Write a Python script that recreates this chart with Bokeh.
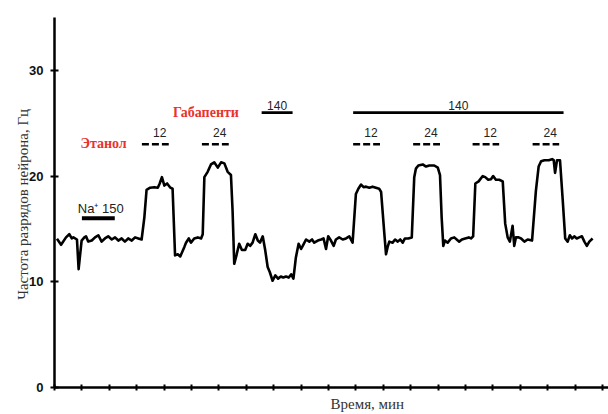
from bokeh.plotting import figure
from bokeh.models import Range1d, Title, FixedTicker
from bokeh.core.properties import value
from bokeh.embed import file_html
from bokeh.resources import INLINE

# ---- data ----
time_min = [0.09, 0.24, 0.42, 0.54, 0.63, 0.69, 0.82, 0.88, 0.99, 1.09, 1.15, 1.23, 1.36, 1.48, 1.60, 1.72,
            1.84, 1.96, 2.09, 2.21, 2.33, 2.45, 2.57, 2.69, 2.82, 2.94, 3.06, 3.18, 3.28, 3.36, 3.49, 3.64,
            3.77, 3.84, 3.92, 4.01, 4.11, 4.23, 4.31, 4.40, 4.50, 4.59, 4.74, 4.80, 4.90, 4.98, 5.10, 5.23,
            5.35, 5.41, 5.47, 5.59, 5.71, 5.83, 5.96, 6.08, 6.20, 6.32, 6.44, 6.50, 6.56, 6.65, 6.74, 6.84,
            6.96, 7.05, 7.14, 7.23, 7.33, 7.42, 7.50, 7.60, 7.69, 7.78, 7.86, 7.96, 8.06, 8.16, 8.26, 8.35,
            8.45, 8.55, 8.64, 8.72, 8.81, 8.91, 9.00, 9.08, 9.18, 9.30, 9.40, 9.48, 9.61, 9.73, 9.82, 9.91,
            9.99, 10.09, 10.19, 10.27, 10.39, 10.52, 10.64, 10.76, 10.88, 11.00, 11.09, 11.19, 11.28, 11.37,
            11.49, 11.61, 11.73, 11.85, 11.92, 12.04, 12.10, 12.16, 12.22, 12.34, 12.43, 12.53, 12.62, 12.71,
            12.79, 12.91, 13.04, 13.13, 13.19, 13.28, 13.44, 13.56, 13.68, 13.86, 13.99, 14.07, 14.13, 14.19,
            14.25, 14.35, 14.47, 14.59, 14.72, 14.77, 14.87, 14.99, 15.12, 15.20, 15.28, 15.36, 15.48, 15.63,
            15.72, 15.83, 15.93, 16.01, 16.11, 16.23, 16.36, 16.45, 16.54, 16.62, 16.72, 16.78, 16.84, 16.94,
            17.03, 17.15, 17.27, 17.43, 17.57, 17.67, 17.76, 17.88, 18.04, 18.16, 18.22, 18.27, 18.34, 18.45,
            18.55, 18.64, 18.73, 18.81, 18.89, 18.97, 19.06, 19.15, 19.25, 19.34, 19.43, 19.52, 19.64]
rate_hz = [14.07, 13.5, 14.2, 14.5, 14.1, 14.2, 14.0, 11.2, 13.9, 14.2, 14.3, 13.8, 13.9, 14.2, 14.4, 13.8,
           14.1, 14.3, 14.0, 14.2, 13.9, 14.1, 13.8, 14.1, 13.9, 14.2, 14.1, 14.0, 16.1, 18.7, 18.9, 18.95,
           18.9, 19.3, 19.9, 19.1, 19.3, 18.9, 18.8, 12.5, 12.6, 12.4, 13.3, 13.7, 14.1, 13.7, 14.1, 14.2,
           14.1, 14.5, 19.9, 20.4, 21.1, 21.3, 20.8, 21.3, 21.2, 20.4, 20.1, 16.7, 11.7, 12.6, 13.6, 13.0,
           13.0, 13.6, 13.4, 13.7, 14.5, 13.9, 13.7, 14.3, 13.0, 11.4, 10.9, 10.1, 10.6, 10.3, 10.5, 10.4,
           10.5, 10.4, 10.7, 10.3, 12.3, 13.6, 13.1, 13.5, 14.0, 13.8, 14.0, 13.7, 13.9, 14.0, 14.1, 13.1,
           14.3, 13.9, 13.4, 14.0, 14.2, 14.0, 14.1, 14.3, 13.7, 18.3, 18.8, 19.2, 18.95, 19.0,
           18.9, 19.0, 18.9, 18.8, 18.5, 14.5, 12.6, 13.3, 13.8, 13.7, 14.0, 13.8, 14.0, 13.7,
           14.1, 14.1, 14.2, 19.9, 20.7, 21.0, 21.1, 20.9, 21.0, 21.0, 20.8, 20.1, 16.1, 13.4,
           13.9, 13.7, 14.1, 14.2, 13.9, 13.8, 14.0, 14.1, 14.2, 14.1, 14.3, 19.3, 19.5, 20.0,
           19.9, 19.65, 19.7, 20.0, 19.65, 19.65, 19.5, 15.5, 14.2, 13.8, 15.3, 13.4, 14.2, 14.2,
           14.1, 13.8, 14.0, 13.9, 18.6, 20.9, 21.4, 21.5, 21.5, 21.6, 21.5, 20.3, 21.5, 21.5,
           17.7, 14.1, 13.8, 14.4, 14.1, 14.3, 14.1, 14.2, 14.3, 13.8, 13.4, 13.8, 14.1]

y_ticks = [0, 10, 20, 30]
x_ticks = list(range(0, 21))

na_label = "Na⁺ 150"
na_start, na_end, na_level = 1.0, 2.2, 16.0

ethanol_label = "Этанол"
dose_labels = ["12", "24", "12", "24", "12", "24"]
dose_start = [3.19, 5.38, 10.90, 13.09, 15.26, 17.45]
dose_end = [4.17, 6.36, 11.88, 14.07, 16.23, 18.42]
dose_level = 23.0

gaba_label = "Габапенти"
gaba_doses = ["140", "140"]
gaba_start = [7.56, 10.90]
gaba_end = [8.69, 18.58]
gaba_level = 26.0

RED = "#e8322e"
TXT = "#222222"

p = figure(width=608, height=414, output_backend="svg", toolbar_location=None,
           x_range=Range1d(0, 20.22), y_range=Range1d(0, 35),
           min_border_left=54, min_border_right=0, min_border_top=17, min_border_bottom=27)
p.outline_line_color = None
p.xgrid.visible = False
p.ygrid.visible = False
p.background_fill_color = "white"
p.border_fill_color = "white"

# axes
p.yaxis.ticker = FixedTicker(ticks=y_ticks)
p.yaxis.minor_tick_line_color = None
p.yaxis.major_tick_in = 4
p.yaxis.major_tick_out = 4
p.yaxis.major_tick_line_width = 2
p.yaxis.axis_line_width = 2.5
p.yaxis.major_label_text_font = "Liberation Sans"
p.yaxis.major_label_text_font_style = "bold"
p.yaxis.major_label_text_font_size = "13px"
p.yaxis.major_label_text_color = "#111111"
p.yaxis.major_label_standoff = 7
p.yaxis.axis_label = "Частота разрядов нейрона,  Гц"
p.yaxis.axis_label_text_font = "Liberation Serif"
p.yaxis.axis_label_text_font_style = "normal"
p.yaxis.axis_label_text_font_size = "15px"
p.yaxis.axis_label_text_color = "#333333"
p.yaxis.axis_label_standoff = -5

p.xaxis.ticker = FixedTicker(ticks=x_ticks)
p.xaxis.minor_tick_line_color = None
p.xaxis.major_tick_in = 3
p.xaxis.major_tick_out = 3
p.xaxis.major_tick_line_width = 2
p.xaxis.axis_line_width = 2.5
p.xaxis.major_label_text_font_size = "0px"
p.xaxis.major_label_text_color = None
p.xaxis.major_label_standoff = 0

# trace
p.line(time_min, rate_hz, line_color="black", line_width=2.6, line_join="round")

# Na bar
p.segment(x0=[na_start], y0=[na_level], x1=[na_end], y1=[na_level], line_color="black", line_width=4)
p.text(x=[(na_start + na_end) / 2 + 0.09], y=[na_level + 0.9], text=[na_label],
       text_font=value("Liberation Sans"), text_font_size="13px", text_color=TXT,
       text_align="center", text_baseline="middle")

# ethanol doses (dashed)
p.segment(x0=dose_start, y0=[dose_level] * len(dose_start), x1=dose_end, y1=[dose_level] * len(dose_end),
          line_color="black", line_width=2.5, line_dash="7 3")
p.text(x=[(a + b) / 2 + 0.16 for a, b in zip(dose_start, dose_end)], y=[dose_level + 1.1] * len(dose_labels),
       text=dose_labels, text_font=value("Liberation Sans"), text_font_size="12px", text_color=TXT,
       text_align="center", text_baseline="middle")
p.text(x=[1.79], y=[dose_level + 0.05], text=[ethanol_label], text_font=value("Liberation Serif"),
       text_font_style="bold", text_font_size="14px", text_color=RED,
       text_align="center", text_baseline="middle")

# gabapentin bars
p.segment(x0=gaba_start, y0=[gaba_level] * 2, x1=gaba_end, y1=[gaba_level] * 2,
          line_color="black", line_width=2.8)
p.text(x=[(a + b) / 2 for a, b in zip(gaba_start, gaba_end)], y=[gaba_level + 0.65] * 2, text=gaba_doses,
       text_font=value("Liberation Sans"), text_font_size="12px", text_color=TXT,
       text_align="center", text_baseline="middle")
p.text(x=[5.53], y=[gaba_level + 0.05], text=[gaba_label], text_font=value("Liberation Serif"),
       text_font_style="bold", text_font_size="14px", text_color=RED,
       text_align="center", text_baseline="middle")

# x axis label (off-centre, as in the original)
p.add_layout(Title(text="Время, мин", align="left", offset=276, text_font="Liberation Serif",
                   text_font_size="15px", text_font_style="normal", text_color="#333333",
                   standoff=6), "below")

open("out.html", "w").write(file_html(p, INLINE))
